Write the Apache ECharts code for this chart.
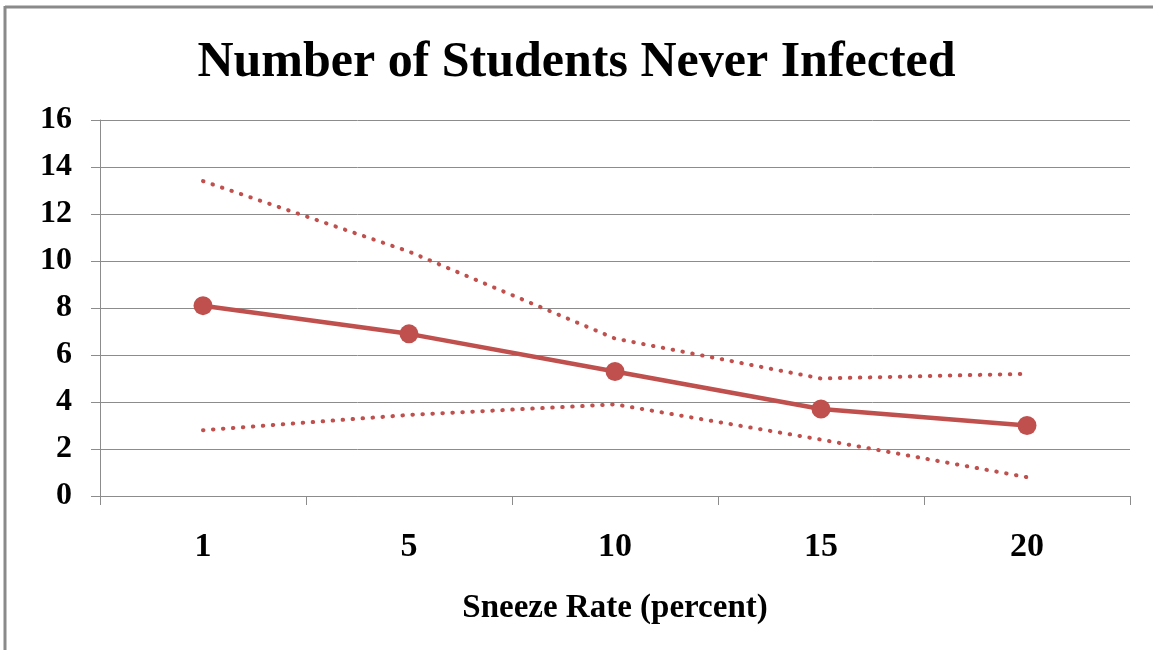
<!DOCTYPE html>
<html>
<head>
<meta charset="utf-8">
<script src="https://cdn.jsdelivr.net/npm/echarts@6/dist/echarts.min.js"></script>
<style>
  html, body { margin: 0; padding: 0; background: #fff; }
  #chart { width: 1153px; height: 650px; }
</style>
</head>
<body>
<div id="chart"></div>
<script>
// Sneeze rate categories and the average / spread of students never infected
const sneezeRates = ['1', '5', '10', '15', '20'];
const meanNeverInfected = [8.1, 6.9, 5.3, 3.7, 3.0];
const upperBound = [13.4, 10.4, 6.7, 5.0, 5.2];
const lowerBound = [2.8, 3.45, 3.9, 2.4, 0.8];

const red = '#C0504D';
const serif = '"Liberation Serif", "DejaVu Serif", serif';

const chart = echarts.init(document.getElementById('chart'), null, { renderer: 'canvas' });

const dotted = { color: red, width: 4, type: [0.5, 9.5], cap: 'round' };

chart.setOption({
  animation: false,
  backgroundColor: '#fff',
  title: {
    text: 'Number of Students Never Infected',
    left: 'center',
    top: 33,
    textStyle: { fontFamily: serif, fontWeight: 'bold', fontSize: 50, color: '#000' }
  },
  grid: { left: 100, right: 23, top: 120, bottom: 154 },
  xAxis: {
    type: 'category',
    data: sneezeRates,
    boundaryGap: true,
    name: 'Sneeze Rate (percent)',
    nameLocation: 'middle',
    nameGap: 96,
    nameTextStyle: { fontFamily: serif, fontWeight: 'bold', fontSize: 33, color: '#000' },
    axisLine: { lineStyle: { color: '#8c8c8c', width: 1 } },
    axisTick: { show: true, length: 9, alignWithLabel: false, lineStyle: { color: '#8c8c8c' } },
    axisLabel: { margin: 34, fontFamily: serif, fontWeight: 'bold', fontSize: 34, color: '#000' }
  },
  yAxis: {
    type: 'value',
    min: 0,
    max: 16,
    interval: 2,
    axisLine: { show: true, lineStyle: { color: '#8c8c8c', width: 1 } },
    axisTick: { show: true, length: 9, lineStyle: { color: '#8c8c8c' } },
    axisLabel: { margin: 28, padding: [4, 0, 0, 0], fontFamily: serif, fontWeight: 'bold', fontSize: 32, color: '#000' },
    splitLine: { lineStyle: { color: '#8c8c8c', width: 1 } }
  },
  series: [
    {
      name: 'Upper',
      type: 'line',
      data: upperBound,
      symbol: 'none',
      lineStyle: dotted
    },
    {
      name: 'Lower',
      type: 'line',
      data: lowerBound,
      symbol: 'none',
      lineStyle: dotted
    },
    {
      name: 'Mean',
      type: 'line',
      data: meanNeverInfected,
      symbol: 'circle',
      symbolSize: 19,
      itemStyle: { color: red },
      lineStyle: { color: red, width: 4.5 }
    }
  ],
  graphic: [
    { type: 'line', shape: { x1: 5, y1: 7, x2: 1153, y2: 7 }, style: { stroke: '#8a8a8a', lineWidth: 3 } },
    { type: 'line', shape: { x1: 5, y1: 6, x2: 5, y2: 650 }, style: { stroke: '#8a8a8a', lineWidth: 3 } }
  ]
});
</script>
</body>
</html>
